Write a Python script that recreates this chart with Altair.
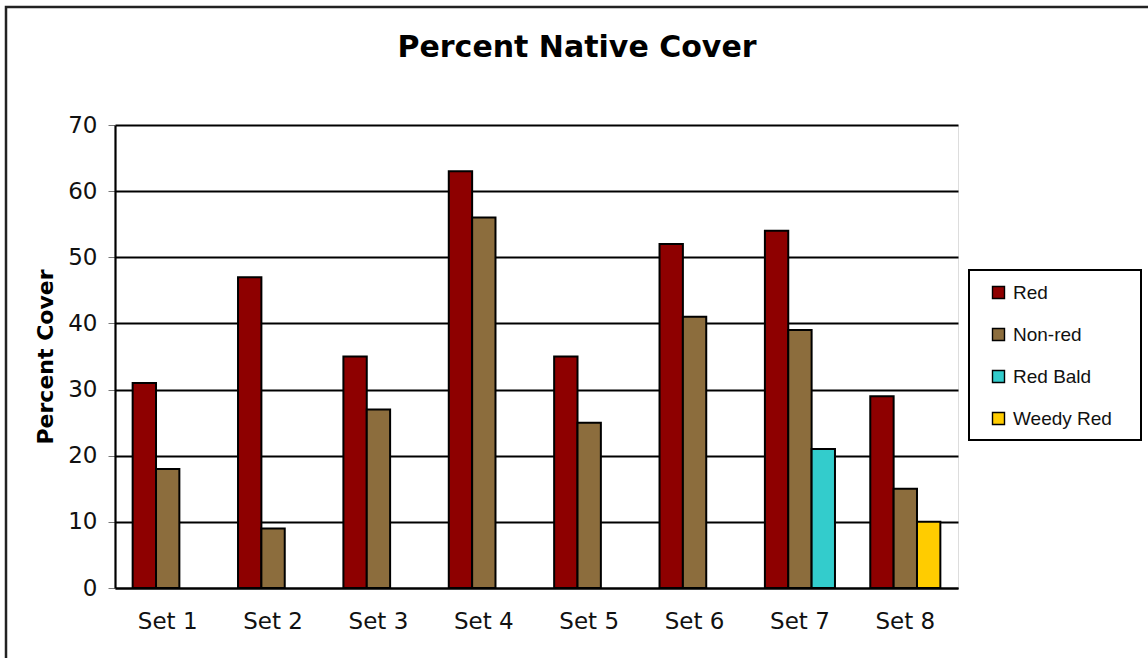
import altair as alt
import pandas as pd

# Percent native cover per sample set
sets = ["Set 1", "Set 2", "Set 3", "Set 4", "Set 5", "Set 6", "Set 7", "Set 8"]
red = [31, 47, 35, 63, 35, 52, 54, 29]
non_red = [18, 9, 27, 56, 25, 41, 39, 15]
red_bald = {"Set 7": 21}
weedy_red = {"Set 8": 10}

series = ["Red", "Non-red", "Red Bald", "Weedy Red"]
colors = ["#8E0000", "#8C6D3D", "#33CCCC", "#FFCC00"]
# bar slot inside each group: the two optional series share the third slot
slots = {"Red": 0, "Non-red": 1, "Red Bald": 2, "Weedy Red": 2}

rows = []
for i, s in enumerate(sets):
    rows.append({"set": s, "series": "Red", "value": red[i]})
    rows.append({"set": s, "series": "Non-red", "value": non_red[i]})
    if s in red_bald:
        rows.append({"set": s, "series": "Red Bald", "value": red_bald[s]})
    if s in weedy_red:
        rows.append({"set": s, "series": "Weedy Red", "value": weedy_red[s]})
df = pd.DataFrame(rows)
df["slot"] = df["series"].map(slots)

W, H = 843, 463
PAD = {"left": 115, "top": 125, "right": 190, "bottom": 70}

bars = alt.Chart(df).mark_bar(stroke="black", strokeWidth=2).encode(
    x=alt.X(
        "set:N",
        sort=sets,
        scale=alt.Scale(paddingInner=0.335, paddingOuter=0.1675),
        axis=alt.Axis(
            title=None,
            labelAngle=0,
            labelFont="DejaVu Sans",
            labelFontSize=23,
            labelColor="#111111",
            labelPadding=22,
            labelBaseline="top",
            ticks=False,
            tickSize=0,
            grid=False,
            domainColor="black",
            domainWidth=2.2,
        ),
    ),
    xOffset=alt.XOffset(
        "slot:O",
        scale=alt.Scale(domain=[0, 1, 2], paddingInner=0, paddingOuter=0),
    ),
    y=alt.Y(
        "value:Q",
        scale=alt.Scale(domain=[0, 70], nice=False),
        axis=alt.Axis(
            title="Percent Cover",
            titleFont="DejaVu Sans",
            titleFontSize=22,
            titleFontWeight="bold",
            titleColor="black",
            titleAngle=270,
            titleAlign="center",
            titleBaseline="middle",
            titleX=-70,
            titleY=H / 2,
            values=[0, 10, 20, 30, 40, 50, 60, 70],
            labelFont="DejaVu Sans",
            labelFontSize=23,
            labelColor="#111111",
            labelPadding=11,
            tickSize=7,
            tickColor="#777777",
            tickWidth=1,
            domainColor="black",
            domainWidth=2.2,
            grid=True,
            gridColor="black",
            gridWidth=1.8,
        ),
    ),
    color=alt.Color(
        "series:N",
        scale=alt.Scale(domain=series, range=colors),
        legend=alt.Legend(
            title=None,
            orient="none",
            legendX=854,
            legendY=145,
            symbolType="square",
            symbolSize=144,
            symbolStrokeColor="black",
            symbolStrokeWidth=1.4,
            symbolOffset=7,
            labelFont="Liberation Sans",
            labelFontSize=19,
            labelColor="#111111",
            labelOffset=5,
            rowPadding=22,
            padding=13,
        ),
    ),
)

one = pd.DataFrame({"k": [0]})

# outer frame around the whole figure
frame = alt.Chart(one).mark_rect(
    fillOpacity=0, stroke="#222222", strokeWidth=2.5
).encode(
    x=alt.value(6 - PAD["left"]),
    x2=alt.value(1160 - PAD["left"]),
    y=alt.value(7 - PAD["top"]),
    y2=alt.value(670 - PAD["top"]),
)

# box behind the legend
legend_box = alt.Chart(one).mark_rect(
    fill="white", stroke="black", strokeWidth=2
).encode(
    x=alt.value(969 - PAD["left"]),
    x2=alt.value(1141 - PAD["left"]),
    y=alt.value(270 - PAD["top"]),
    y2=alt.value(440 - PAD["top"]),
)

title = alt.Chart(one).mark_text(
    text="Percent Native Cover",
    font="DejaVu Sans",
    fontSize=30,
    fontWeight="bold",
    color="black",
    align="center",
    baseline="alphabetic",
).encode(
    x=alt.value(577 - PAD["left"]),
    y=alt.value(57 - PAD["top"]),
)

chart = (
    alt.layer(frame, legend_box, title, bars)
    .properties(
        width=W,
        height=H,
        autosize=alt.AutoSizeParams(type="none"),
        padding=PAD,
    )
    .configure_view(stroke="black", strokeWidth=2.2)
    .configure(background="white")
)

chart.save("out.html", embed_options={"renderer": "svg", "actions": False})
